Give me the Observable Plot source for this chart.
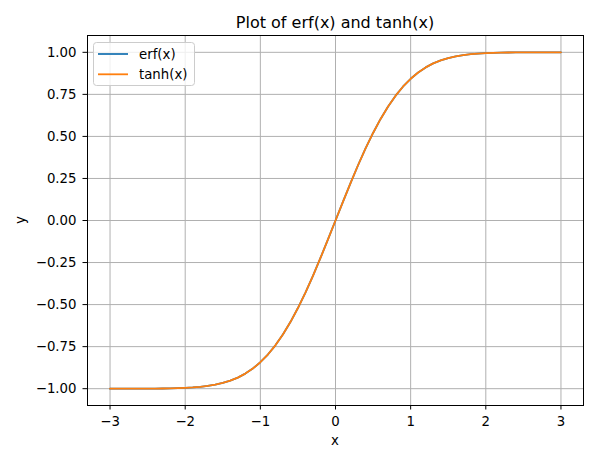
<!DOCTYPE html>
<html>
<head>
<meta charset="utf-8">
<script src="https://cdn.jsdelivr.net/npm/d3@7"></script>
<script src="https://cdn.jsdelivr.net/npm/@observablehq/plot@0.6"></script>
<style>
  html, body { margin: 0; padding: 0; background: #fff; }
  svg { display: block; }
</style>
</head>
<body>
<div id="chart"></div>
<script>
const xValues = [-3.0,-2.9,-2.8,-2.7,-2.6,-2.5,-2.4,-2.3,-2.2,-2.1,-2.0,-1.9,-1.8,-1.7,-1.6,-1.5,-1.4,-1.3,-1.2,-1.1,-1.0,-0.9,-0.8,-0.7,-0.6,-0.5,-0.4,-0.3,-0.2,-0.1,0.0,0.1,0.2,0.3,0.4,0.5,0.6,0.7,0.8,0.9,1.0,1.1,1.2,1.3,1.4,1.5,1.6,1.7,1.8,1.9,2.0,2.1,2.2,2.3,2.4,2.5,2.6,2.7,2.8,2.9,3.0];
const erfValues = [-1.0000,-1.0000,-0.9999,-0.9999,-0.9998,-0.9996,-0.9993,-0.9989,-0.9981,-0.9970,-0.9953,-0.9928,-0.9891,-0.9838,-0.9763,-0.9661,-0.9523,-0.9340,-0.9103,-0.8802,-0.8427,-0.7969,-0.7421,-0.6778,-0.6039,-0.5205,-0.4284,-0.3286,-0.2227,-0.1125,0.0000,0.1125,0.2227,0.3286,0.4284,0.5205,0.6039,0.6778,0.7421,0.7969,0.8427,0.8802,0.9103,0.9340,0.9523,0.9661,0.9763,0.9838,0.9891,0.9928,0.9953,0.9970,0.9981,0.9989,0.9993,0.9996,0.9998,0.9999,0.9999,1.0000,1.0000];
const tanhValues = [-1.0000,-1.0000,-0.9999,-0.9999,-0.9998,-0.9996,-0.9993,-0.9989,-0.9981,-0.9970,-0.9953,-0.9928,-0.9891,-0.9838,-0.9763,-0.9661,-0.9523,-0.9340,-0.9103,-0.8802,-0.8427,-0.7969,-0.7421,-0.6778,-0.6039,-0.5205,-0.4284,-0.3286,-0.2227,-0.1125,0.0000,0.1125,0.2227,0.3286,0.4284,0.5205,0.6039,0.6778,0.7421,0.7969,0.8427,0.8802,0.9103,0.9340,0.9523,0.9661,0.9763,0.9838,0.9891,0.9928,0.9953,0.9970,0.9981,0.9989,0.9993,0.9996,0.9998,0.9999,0.9999,1.0000,1.0000];
const xTicks = [-3, -2, -1, 0, 1, 2, 3];
const yTicks = [-1.00, -0.75, -0.50, -0.25, 0.00, 0.25, 0.50, 0.75, 1.00];
const seriesNames = ["erf(x)", "tanh(x)"];
const seriesColors = ["#1f77b4", "#ff7f0e"];
const titleText = "Plot of erf(x) and tanh(x)";
const xLabel = "x";
const yLabel = "y";

const erfData = xValues.map((x, i) => ({x, y: erfValues[i]}));
const tanhData = xValues.map((x, i) => ({x, y: tanhValues[i]}));

const W = 611, H = 454;
const mL = 87, mR = 28, mT = 35, mB = 49;
const font = "'DejaVu Sans', sans-serif";

const plot = Plot.plot({
  width: W,
  height: H,
  marginLeft: mL,
  marginRight: mR,
  marginTop: mT,
  marginBottom: mB,
  style: {fontFamily: font, fontSize: "13.3px", color: "#000", background: "#fff"},
  x: {domain: [-3.3, 3.3]},
  y: {domain: [-1.1, 1.1]},
  marks: [
    Plot.gridX(xTicks, {stroke: "#b0b0b0", strokeOpacity: 1, strokeWidth: 1}),
    Plot.gridY(yTicks, {stroke: "#b0b0b0", strokeOpacity: 1, strokeWidth: 1}),
    Plot.line(erfData, {x: "x", y: "y", stroke: seriesColors[0], strokeWidth: 1.8}),
    Plot.line(tanhData, {x: "x", y: "y", stroke: seriesColors[1], strokeWidth: 1.8}),
    Plot.frame({stroke: "#000", strokeWidth: 1}),
    Plot.axisX({ticks: xTicks, tickSize: 4.5, tickPadding: 7, label: null, tickFormat: d3.format("d")}),
    Plot.axisY({ticks: yTicks, tickSize: 4.5, tickPadding: 6.5, label: null, tickFormat: d3.format(".2f")})
  ]
});

const svg = d3.select(plot);
svg.append("text")
  .attr("x", (mL + W - mR) / 2).attr("y", 28.3)
  .attr("text-anchor", "middle")
  .attr("font-family", font).attr("font-size", "16px").attr("fill", "#000")
  .text(titleText);
svg.append("text")
  .attr("x", (mL + W - mR) / 2).attr("y", 445)
  .attr("text-anchor", "middle")
  .attr("font-family", font).attr("font-size", "13.3px").attr("fill", "#000")
  .text(xLabel);
svg.append("text")
  .attr("transform", `translate(25.2, ${(mT + H - mB) / 2}) rotate(-90)`)
  .attr("text-anchor", "middle")
  .attr("font-family", font).attr("font-size", "13.3px").attr("fill", "#000")
  .text(yLabel);

// legend
const lg = svg.append("g");
lg.append("rect")
  .attr("x", 93.5).attr("y", 42.5).attr("width", 101).attr("height", 43)
  .attr("rx", 3).attr("ry", 3)
  .attr("fill", "#fff").attr("fill-opacity", 0.8)
  .attr("stroke", "#cccccc").attr("stroke-width", 1);
seriesNames.forEach((name, i) => {
  const yy = 54 + i * 20.3;
  lg.append("line")
    .attr("x1", 98).attr("x2", 128).attr("y1", yy).attr("y2", yy)
    .attr("stroke", seriesColors[i]).attr("stroke-width", 1.8);
  lg.append("text")
    .attr("x", 139).attr("y", yy + 4.7)
    .attr("text-anchor", "start")
    .attr("font-family", font).attr("font-size", "13.3px").attr("fill", "#000")
    .text(name);
});

document.getElementById("chart").appendChild(plot);
</script>
</body>
</html>
